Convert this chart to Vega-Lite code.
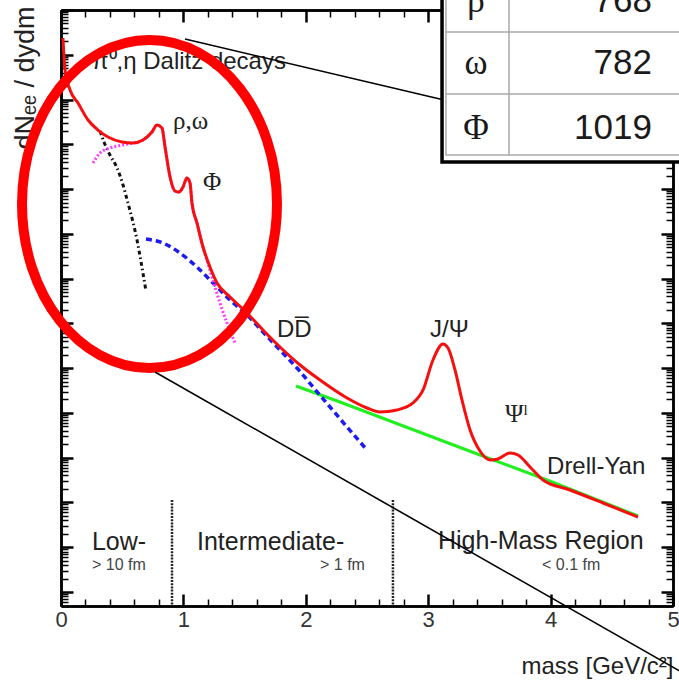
{
  "$schema": "https://vega.github.io/schema/vega-lite/v6.json",
  "width": 612,
  "height": 596,
  "autosize": {"type": "none"},
  "padding": {"left": 61, "top": 10, "right": 6, "bottom": 75},
  "background": "white",
  "config": {
    "view": {"stroke": null},
    "font": "Liberation Sans",
    "axis": {"domainColor": "black", "domainWidth": 2.5, "tickColor": "black", "grid": false, "zindex": 0, "labelFont": "Liberation Sans", "labelFontSize": 22, "labelColor": "#333", "labelFlush": false, "labelOverlap": false, "titleFont": "Liberation Sans", "titleFontWeight": "normal", "titleColor": "#222"}
  },
  "datasets": {
    "total": [
      {"mass": 0.016, "log_dNdm": 12.374}, {"mass": 0.033, "log_dNdm": 11.66}, {"mass": 0.074, "log_dNdm": 11.213},
      {"mass": 0.139, "log_dNdm": 10.922}, {"mass": 0.221, "log_dNdm": 10.543}, {"mass": 0.302, "log_dNdm": 10.319},
      {"mass": 0.384, "log_dNdm": 10.163}, {"mass": 0.498, "log_dNdm": 10.052}, {"mass": 0.588, "log_dNdm": 10.029},
      {"mass": 0.67, "log_dNdm": 10.096}, {"mass": 0.743, "log_dNdm": 10.275}, {"mass": 0.784, "log_dNdm": 10.431},
      {"mass": 0.825, "log_dNdm": 10.364}, {"mass": 0.85, "log_dNdm": 9.94}, {"mass": 0.891, "log_dNdm": 9.27},
      {"mass": 0.931, "log_dNdm": 8.957}, {"mass": 0.964, "log_dNdm": 8.934}, {"mass": 0.997, "log_dNdm": 9.046},
      {"mass": 1.029, "log_dNdm": 9.248}, {"mass": 1.054, "log_dNdm": 9.136}, {"mass": 1.07, "log_dNdm": 8.689},
      {"mass": 1.111, "log_dNdm": 8.242}, {"mass": 1.16, "log_dNdm": 7.706}, {"mass": 1.217, "log_dNdm": 7.259},
      {"mass": 1.275, "log_dNdm": 6.902}, {"mass": 1.381, "log_dNdm": 6.589}, {"mass": 1.52, "log_dNdm": 6.232},
      {"mass": 1.65, "log_dNdm": 5.852}, {"mass": 1.789, "log_dNdm": 5.472}, {"mass": 1.953, "log_dNdm": 5.07},
      {"mass": 2.116, "log_dNdm": 4.735}, {"mass": 2.337, "log_dNdm": 4.333}, {"mass": 2.5, "log_dNdm": 4.11},
      {"mass": 2.606, "log_dNdm": 4.021}, {"mass": 2.745, "log_dNdm": 4.065}, {"mass": 2.876, "log_dNdm": 4.222},
      {"mass": 2.958, "log_dNdm": 4.512}, {"mass": 3.039, "log_dNdm": 5.182}, {"mass": 3.121, "log_dNdm": 5.539},
      {"mass": 3.162, "log_dNdm": 5.45}, {"mass": 3.219, "log_dNdm": 4.959}, {"mass": 3.276, "log_dNdm": 4.289},
      {"mass": 3.342, "log_dNdm": 3.618}, {"mass": 3.423, "log_dNdm": 3.149}, {"mass": 3.505, "log_dNdm": 2.948},
      {"mass": 3.57, "log_dNdm": 2.971}, {"mass": 3.668, "log_dNdm": 3.105}, {"mass": 3.734, "log_dNdm": 3.06},
      {"mass": 3.832, "log_dNdm": 2.792}, {"mass": 3.938, "log_dNdm": 2.502}, {"mass": 4.158, "log_dNdm": 2.278},
      {"mass": 4.428, "log_dNdm": 1.988}, {"mass": 4.714, "log_dNdm": 1.675}
    ],
    "dalitz": [
      {"mass": 0.319, "log_dNdm": 10.297}, {"mass": 0.351, "log_dNdm": 10.051}, {"mass": 0.4, "log_dNdm": 9.761},
      {"mass": 0.458, "log_dNdm": 9.471}, {"mass": 0.507, "log_dNdm": 9.091}, {"mass": 0.547, "log_dNdm": 8.689},
      {"mass": 0.588, "log_dNdm": 8.264}, {"mass": 0.621, "log_dNdm": 7.863}, {"mass": 0.654, "log_dNdm": 7.371},
      {"mass": 0.694, "log_dNdm": 6.723}
    ],
    "vector_mesons": [
      {"mass": 0.261, "log_dNdm": 9.582}, {"mass": 0.319, "log_dNdm": 9.806}, {"mass": 0.4, "log_dNdm": 9.917},
      {"mass": 0.482, "log_dNdm": 9.973}, {"mass": 0.547, "log_dNdm": 10.007}, {"mass": 0.67, "log_dNdm": 10.096},
      {"mass": 0.743, "log_dNdm": 10.275}, {"mass": 0.784, "log_dNdm": 10.431}, {"mass": 0.825, "log_dNdm": 10.364},
      {"mass": 0.85, "log_dNdm": 9.94}, {"mass": 0.891, "log_dNdm": 9.27}, {"mass": 0.931, "log_dNdm": 8.957},
      {"mass": 0.964, "log_dNdm": 8.934}, {"mass": 0.997, "log_dNdm": 9.046}, {"mass": 1.029, "log_dNdm": 9.248},
      {"mass": 1.054, "log_dNdm": 9.136}, {"mass": 1.07, "log_dNdm": 8.689}, {"mass": 1.111, "log_dNdm": 8.242},
      {"mass": 1.16, "log_dNdm": 7.706}, {"mass": 1.217, "log_dNdm": 7.192}, {"mass": 1.258, "log_dNdm": 6.813},
      {"mass": 1.299, "log_dNdm": 6.455}, {"mass": 1.356, "log_dNdm": 6.008}, {"mass": 1.422, "log_dNdm": 5.562}
    ],
    "open_charm": [
      {"mass": 0.694, "log_dNdm": 7.885}, {"mass": 0.833, "log_dNdm": 7.795}, {"mass": 0.972, "log_dNdm": 7.572},
      {"mass": 1.111, "log_dNdm": 7.259}, {"mass": 1.242, "log_dNdm": 6.902}, {"mass": 1.381, "log_dNdm": 6.522},
      {"mass": 1.52, "log_dNdm": 6.187}, {"mass": 1.65, "log_dNdm": 5.807}, {"mass": 1.789, "log_dNdm": 5.405},
      {"mass": 1.928, "log_dNdm": 5.003}, {"mass": 2.059, "log_dNdm": 4.579}, {"mass": 2.198, "log_dNdm": 4.132},
      {"mass": 2.337, "log_dNdm": 3.685}, {"mass": 2.5, "log_dNdm": 3.172}
    ],
    "drell_yan": [
      {"mass": 1.92, "log_dNdm": 4.601}, {"mass": 2.279, "log_dNdm": 4.244}, {"mass": 3.423, "log_dNdm": 3.06},
      {"mass": 3.971, "log_dNdm": 2.502}, {"mass": 4.714, "log_dNdm": 1.698}
    ],
    "dividers": [
      {"mass": 0.907, "log_dNdm": 2.055, "log_end": -0.313},
      {"mass": 2.712, "log_dNdm": 2.055, "log_end": -0.313}
    ],
    "annotations": [
      {"label": "π⁰,η Dalitz decays", "kind": "process", "mass": 0.253, "log_dNdm": 11.682},
      {"label": "DD̅", "kind": "process", "mass": 1.765, "log_dNdm": 5.696},
      {"label": "J/Ψ", "kind": "process", "mass": 3.015, "log_dNdm": 5.696},
      {"label": "Drell-Yan", "kind": "process", "mass": 3.971, "log_dNdm": 2.636},
      {"label": "ρ,ω", "kind": "resonance", "mass": 0.915, "log_dNdm": 10.342},
      {"label": "Φ", "kind": "resonance", "mass": 1.16, "log_dNdm": 8.979},
      {"label": "Ψˡ", "kind": "resonance", "mass": 3.627, "log_dNdm": 3.797},
      {"label": "Low-", "kind": "region", "mass": 0.253, "log_dNdm": 0.938},
      {"label": "Intermediate-", "kind": "region", "mass": 1.111, "log_dNdm": 0.938},
      {"label": "High-Mass Region", "kind": "region", "mass": 3.08, "log_dNdm": 0.96},
      {"label": "> 10 fm", "kind": "scale", "mass": 0.253, "log_dNdm": 0.49},
      {"label": "> 1 fm", "kind": "scale", "mass": 2.116, "log_dNdm": 0.49},
      {"label": "< 0.1 fm", "kind": "scale", "mass": 3.93, "log_dNdm": 0.49}
    ],
    "highlight": [{"mass": 0.723, "log_dNdm": 8.666}],
    "callouts": [
      {"line": "to table", "mass": 1.013, "log_dNdm": 12.352},
      {"line": "to table", "mass": 3.2, "log_dNdm": 10.945},
      {"line": "away", "mass": 0.768, "log_dNdm": 4.914},
      {"line": "away", "mass": 5.384, "log_dNdm": -2.278}
    ],
    "inset_box": [{"part": "outer", "mass": 3.113, "mass_end": 5.4, "log_dNdm": 9.605, "log_end": 13.9}],
    "inset_inner": [{"part": "inner", "mass": 3.145, "mass_end": 5.4, "log_dNdm": 9.762, "log_end": 13.9}],
    "inset_grid": [
      {"mass": 3.66, "mass_end": 3.66, "log_dNdm": 9.762, "log_end": 13.9},
      {"mass": 3.145, "mass_end": 5.4, "log_dNdm": 12.508, "log_end": 12.508},
      {"mass": 3.145, "mass_end": 5.4, "log_dNdm": 11.124, "log_end": 11.124}
    ],
    "inset_rows": [
      {"symbol": "ρ", "value": "768", "mass": 3.39, "val_mass": 4.828, "log_dNdm": 12.955},
      {"symbol": "ω", "value": "782", "mass": 3.39, "val_mass": 4.828, "log_dNdm": 11.57},
      {"symbol": "Φ", "value": "1019", "mass": 3.39, "val_mass": 4.828, "log_dNdm": 10.118}
    ]
  },
  "layer": [
    {
      "layer": [
        {
          "data": {"name": "dividers"},
          "mark": {"type": "rule", "color": "#222", "strokeWidth": 2.5, "strokeDash": [2, 1.2]},
          "encoding": {
            "x": {"field": "mass", "type": "quantitative", "scale": {"domain": [0, 5], "nice": false, "zero": false},
              "axis": {"orient": "bottom", "values": [0, 1, 2, 3, 4, 5], "format": "d", "tickSize": -12, "tickWidth": 2.5, "labelPadding": 15,
                "title": "mass [GeV/c²]", "titleFontSize": 24, "titleAnchor": "end", "titleAlign": "right", "titleBaseline": "alphabetic", "titleX": 612, "titleY": 67}},
            "y": {"field": "log_dNdm", "type": "quantitative", "scale": {"domain": [-0.313, 13.0], "nice": false, "zero": false},
              "axis": {"orient": "left", "labels": false, "values": [0,1,2,3,4,5,6,7,8,9,10,11,12,13], "tickSize": -12, "tickWidth": 2.5,
                "title": "dNₑₑ / dydm", "titleFontSize": 27, "titleAngle": -90, "titleAlign": "right", "titleBaseline": "alphabetic", "titleX": -28, "titleY": -4}},
            "y2": {"field": "log_end"}
          }
        },
        {
          "data": {"name": "drell_yan"},
          "mark": {"type": "line", "color": "#22ee22", "strokeWidth": 3},
          "encoding": {"x": {"field": "mass", "type": "quantitative"}, "y": {"field": "log_dNdm", "type": "quantitative"}}
        },
        {
          "data": {"name": "open_charm"},
          "mark": {"type": "line", "color": "#1c1cf0", "strokeWidth": 3.5, "strokeDash": [6, 4], "interpolate": "monotone"},
          "encoding": {"x": {"field": "mass", "type": "quantitative"}, "y": {"field": "log_dNdm", "type": "quantitative"}}
        },
        {
          "data": {"name": "dalitz"},
          "mark": {"type": "line", "color": "#111", "strokeWidth": 3, "strokeDash": [4, 3, 1.5, 3], "interpolate": "monotone"},
          "encoding": {"x": {"field": "mass", "type": "quantitative"}, "y": {"field": "log_dNdm", "type": "quantitative"}}
        },
        {
          "data": {"name": "vector_mesons"},
          "mark": {"type": "line", "color": "#ff3cff", "strokeWidth": 3, "strokeDash": [2, 2], "interpolate": "monotone"},
          "encoding": {"x": {"field": "mass", "type": "quantitative"}, "y": {"field": "log_dNdm", "type": "quantitative"}}
        },
        {
          "data": {"name": "total"},
          "mark": {"type": "line", "color": "#f50f0f", "strokeWidth": 3, "interpolate": "monotone"},
          "encoding": {"x": {"field": "mass", "type": "quantitative"}, "y": {"field": "log_dNdm", "type": "quantitative"}}
        },
        {
          "data": {"name": "annotations"},
          "transform": [{"filter": "datum.kind === 'process'"}],
          "mark": {"type": "text", "align": "left", "baseline": "alphabetic", "font": "Liberation Sans", "fontSize": 24, "color": "#222"},
          "encoding": {"x": {"field": "mass", "type": "quantitative"}, "y": {"field": "log_dNdm", "type": "quantitative"}, "text": {"field": "label"}}
        },
        {
          "data": {"name": "annotations"},
          "transform": [{"filter": "datum.kind === 'resonance'"}],
          "mark": {"type": "text", "align": "left", "baseline": "alphabetic", "font": "Liberation Serif", "fontSize": 25, "color": "#222"},
          "encoding": {"x": {"field": "mass", "type": "quantitative"}, "y": {"field": "log_dNdm", "type": "quantitative"}, "text": {"field": "label"}}
        },
        {
          "data": {"name": "annotations"},
          "transform": [{"filter": "datum.kind === 'region'"}],
          "mark": {"type": "text", "align": "left", "baseline": "alphabetic", "font": "Liberation Sans", "fontSize": 25, "color": "#222"},
          "encoding": {"x": {"field": "mass", "type": "quantitative"}, "y": {"field": "log_dNdm", "type": "quantitative"}, "text": {"field": "label"}}
        },
        {
          "data": {"name": "annotations"},
          "transform": [{"filter": "datum.kind === 'scale'"}],
          "mark": {"type": "text", "align": "left", "baseline": "alphabetic", "font": "Liberation Sans", "fontSize": 16, "color": "#444"},
          "encoding": {"x": {"field": "mass", "type": "quantitative"}, "y": {"field": "log_dNdm", "type": "quantitative"}, "text": {"field": "label"}}
        },
        {
          "data": {"name": "highlight"},
          "mark": {"type": "point", "shape": "M -0.7774 0 A 0.7774 1 0 1 0 0.7774 0 A 0.7774 1 0 1 0 -0.7774 0 Z", "size": 107584, "filled": false, "stroke": "#ff0000", "strokeWidth": 10, "opacity": 1},
          "encoding": {"x": {"field": "mass", "type": "quantitative"}, "y": {"field": "log_dNdm", "type": "quantitative"}}
        },
        {
          "data": {"name": "callouts"},
          "mark": {"type": "line", "color": "black", "strokeWidth": 1.6},
          "encoding": {"x": {"field": "mass", "type": "quantitative"}, "y": {"field": "log_dNdm", "type": "quantitative"}, "detail": {"field": "line"}}
        },
        {
          "data": {"name": "inset_box"},
          "mark": {"type": "rect", "fill": "white", "stroke": "black", "strokeWidth": 3.5},
          "encoding": {"x": {"field": "mass", "type": "quantitative"}, "x2": {"field": "mass_end"}, "y": {"field": "log_dNdm", "type": "quantitative"}, "y2": {"field": "log_end"}}
        },
        {
          "data": {"name": "inset_inner"},
          "mark": {"type": "rect", "fill": null, "fillOpacity": 0, "stroke": "#aaa", "strokeWidth": 1.5},
          "encoding": {"x": {"field": "mass", "type": "quantitative"}, "x2": {"field": "mass_end"}, "y": {"field": "log_dNdm", "type": "quantitative"}, "y2": {"field": "log_end"}}
        },
        {
          "data": {"name": "inset_grid"},
          "mark": {"type": "rule", "color": "#a8a8a8", "strokeWidth": 1.5},
          "encoding": {"x": {"field": "mass", "type": "quantitative"}, "x2": {"field": "mass_end"}, "y": {"field": "log_dNdm", "type": "quantitative"}, "y2": {"field": "log_end"}}
        },
        {
          "data": {"name": "inset_rows"},
          "mark": {"type": "text", "align": "center", "baseline": "alphabetic", "font": "Liberation Serif", "fontSize": 35, "color": "#1a1a1a"},
          "encoding": {"x": {"field": "mass", "type": "quantitative"}, "y": {"field": "log_dNdm", "type": "quantitative"}, "text": {"field": "symbol"}}
        },
        {
          "data": {"name": "inset_rows"},
          "mark": {"type": "text", "align": "right", "baseline": "alphabetic", "font": "Liberation Sans", "fontSize": 35, "color": "#1a1a1a"},
          "encoding": {"x": {"field": "val_mass", "type": "quantitative"}, "y": {"field": "log_dNdm", "type": "quantitative"}, "text": {"field": "value"}}
        }
      ]
    },
    {
      "data": {"name": "drell_yan"},
      "mark": {"type": "point", "opacity": 0},
      "encoding": {
        "x": {"field": "mass", "type": "quantitative",
          "axis": {"orient": "bottom", "labels": false, "title": null, "tickSize": -7, "tickWidth": 1.5,
            "values": [0.2,0.4,0.6,0.8,1.2,1.4,1.6,1.8,2.2,2.4,2.6,2.8,3.2,3.4,3.6,3.8,4.2,4.4,4.6,4.8]}},
        "y": {"field": "log_dNdm", "type": "quantitative",
          "axis": {"orient": "left", "labels": false, "title": null, "tickSize": -7, "tickWidth": 1.5,
            "values": [-0.22185,-0.1549,-0.09691,-0.04576,
              0.30103,0.47712,0.60206,0.69897,0.77815,0.8451,0.90309,0.95424,
              1.30103,1.47712,1.60206,1.69897,1.77815,1.8451,1.90309,1.95424,
              2.30103,2.47712,2.60206,2.69897,2.77815,2.8451,2.90309,2.95424,
              3.30103,3.47712,3.60206,3.69897,3.77815,3.8451,3.90309,3.95424,
              4.30103,4.47712,4.60206,4.69897,4.77815,4.8451,4.90309,4.95424,
              5.30103,5.47712,5.60206,5.69897,5.77815,5.8451,5.90309,5.95424,
              6.30103,6.47712,6.60206,6.69897,6.77815,6.8451,6.90309,6.95424,
              7.30103,7.47712,7.60206,7.69897,7.77815,7.8451,7.90309,7.95424,
              8.30103,8.47712,8.60206,8.69897,8.77815,8.8451,8.90309,8.95424,
              9.30103,9.47712,9.60206,9.69897,9.77815,9.8451,9.90309,9.95424,
              10.30103,10.47712,10.60206,10.69897,10.77815,10.8451,10.90309,10.95424,
              11.30103,11.47712,11.60206,11.69897,11.77815,11.8451,11.90309,11.95424,
              12.30103,12.47712,12.60206,12.69897,12.77815,12.8451,12.90309,12.95424]}}
      }
    },
    {
      "data": {"name": "drell_yan"},
      "mark": {"type": "point", "opacity": 0},
      "encoding": {
        "x": {"field": "mass", "type": "quantitative",
          "axis": {"orient": "top", "labels": false, "title": null, "tickSize": -12, "tickWidth": 2.5, "values": [0, 1, 2, 3, 4, 5]}},
        "y": {"field": "log_dNdm", "type": "quantitative",
          "axis": {"orient": "right", "labels": false, "title": null, "tickSize": -12, "tickWidth": 2.5, "values": [0,1,2,3,4,5,6,7,8,9,10,11,12,13]}}
      }
    },
    {
      "data": {"name": "drell_yan"},
      "mark": {"type": "point", "opacity": 0},
      "encoding": {
        "x": {"field": "mass", "type": "quantitative",
          "axis": {"orient": "top", "labels": false, "title": null, "tickSize": -7, "tickWidth": 1.5,
            "values": [0.2,0.4,0.6,0.8,1.2,1.4,1.6,1.8,2.2,2.4,2.6,2.8,3.2,3.4,3.6,3.8,4.2,4.4,4.6,4.8]}},
        "y": {"field": "log_dNdm", "type": "quantitative",
          "axis": {"orient": "right", "labels": false, "title": null, "tickSize": -7, "tickWidth": 1.5,
            "values": [-0.22185,-0.1549,-0.09691,-0.04576,
              0.30103,0.47712,0.60206,0.69897,0.77815,0.8451,0.90309,0.95424,
              1.30103,1.47712,1.60206,1.69897,1.77815,1.8451,1.90309,1.95424,
              2.30103,2.47712,2.60206,2.69897,2.77815,2.8451,2.90309,2.95424,
              3.30103,3.47712,3.60206,3.69897,3.77815,3.8451,3.90309,3.95424,
              4.30103,4.47712,4.60206,4.69897,4.77815,4.8451,4.90309,4.95424,
              5.30103,5.47712,5.60206,5.69897,5.77815,5.8451,5.90309,5.95424,
              6.30103,6.47712,6.60206,6.69897,6.77815,6.8451,6.90309,6.95424,
              7.30103,7.47712,7.60206,7.69897,7.77815,7.8451,7.90309,7.95424,
              8.30103,8.47712,8.60206,8.69897,8.77815,8.8451,8.90309,8.95424,
              9.30103,9.47712,9.60206,9.69897,9.77815,9.8451,9.90309,9.95424,
              10.30103,10.47712,10.60206,10.69897,10.77815,10.8451,10.90309,10.95424,
              11.30103,11.47712,11.60206,11.69897,11.77815,11.8451,11.90309,11.95424,
              12.30103,12.47712,12.60206,12.69897,12.77815,12.8451,12.90309,12.95424]}}
      }
    }
  ],
  "resolve": {"axis": {"x": "independent", "y": "independent"}}
}
